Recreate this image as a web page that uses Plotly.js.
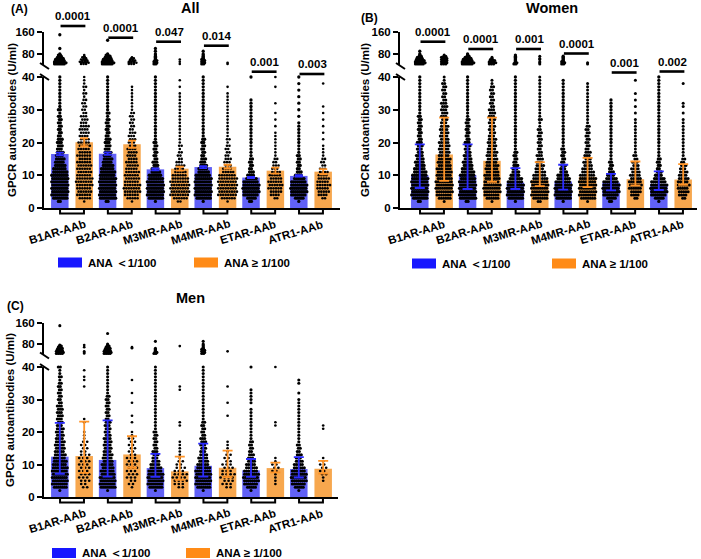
<!DOCTYPE html>
<html>
<head>
<meta charset="utf-8">
<script src="https://cdn.plot.ly/plotly-3.0.1.min.js"></script>
<style>
  html, body { margin: 0; padding: 0; background: #fff; }
  #chart { width: 701px; height: 559px; }
</style>
</head>
<body>
<div id="chart"></div>
<script>
// ---------- categories ----------
const antibodies = ['B1AR-AAb', 'B2AR-AAb', 'M3MR-AAb', 'M4MR-AAb', 'ETAR-AAb', 'ATR1-AAb'];
const legendNeg = 'ANA ＜1/100';
const legendPos = 'ANA ≥ 1/100';

// value levels at which the individual measurements (dots) sit
const lowLevels = [2, 3, 4, 5, 6, 7, 8, 9, 10, 11, 12, 13, 14, 15, 16, 17, 18, 19, 20, 21, 22,
  23, 24, 25, 26, 27, 28, 29, 30, 31, 32, 33, 34, 35, 36, 37, 38, 39, 40];
const highLevels = [44, 48, 52, 56, 60, 64, 68, 72, 76, 80, 90, 100, 110, 120, 130, 140, 150];

// ---------- (A) All: mean ± SEM ----------
const allMeanNeg = [16.5, 16.6, 11.8, 12.5, 9.3, 9.8];
const allSemNeg  = [0.4, 0.4, 0.3, 0.3, 0.2, 0.2];
const allMeanPos = [20.1, 19.5, 12.0, 12.6, 11.4, 11.1];
const allSemPos  = [1.2, 1.1, 0.6, 0.6, 0.9, 0.8];
const allP = ['0.0001', '0.0001', '0.047', '0.014', '0.001', '0.003'];

// ---------- (B) Women: median with interquartile range ----------
const womenMedNeg = [10.0, 10.1, 7.8, 8.1, 7.8, 7.4];
const womenQ1Neg  = [6.1, 5.8, 5.8, 5.6, 5.4, 5.5];
const womenQ3Neg  = [19.4, 19.4, 12.2, 13.2, 10.4, 11.2];
const womenMedPos = [16.3, 14.4, 8.6, 9.5, 8.8, 8.7];
const womenQ1Pos  = [8.3, 8.0, 6.7, 6.4, 6.9, 7.1];
const womenQ3Pos  = [27.6, 27.6, 14.0, 15.3, 14.2, 13.4];
const womenP = ['0.0001', '0.0001', '0.001', '0.0001', '0.001', '0.002'];

// ---------- (C) Men: median with interquartile range ----------
const menMedNeg = [12.4, 11.4, 8.9, 9.6, 8.2, 8.6];
const menQ1Neg  = [7.1, 6.3, 6.2, 6.3, 6.2, 6.0];
const menQ3Neg  = [22.8, 23.6, 13.3, 16.4, 11.7, 12.3];
const menMedPos = [12.6, 13.1, 7.9, 9.0, 8.9, 8.7];
const menQ1Pos  = [7.4, 9.0, 5.3, 6.1, 7.6, 7.2];
const menQ3Pos  = [23.2, 18.7, 12.4, 14.3, 10.6, 11.1];

// ---------- dot counts per level (lowLevels then highLevels), one row per antibody ----------
const allDotsNeg = [
  [2,8,9,9,9,9,9,9,9,8,7, 6,5,5,4,4,3,3,3,3,2, 2,2,2,2,2,2,1,2,1,1, 1,1,1,1,1,1,1,1, 6,7,6,5,5,4,3,2,2,1, 0,1,0,0,0,0,1],
  [2,9,9,9,9,9,9,9,8,8,7, 6,5,5,4,4,3,3,3,3,2, 2,2,2,2,2,1,2,1,1,1, 1,1,1,1,1,1,1,1, 6,7,6,5,5,4,3,3,2,1, 0,0,0,0,1,0,0],
  [1,8,9,9,9,9,9,8,7,5,4, 3,3,2,2,2,2,2,2,1,1, 1,1,1,1,1,1,1,1,1,1, 1,1,1,1,1,1,1,1, 2,2,2,2,1,1,1,1,1,1, 1,1,0,0,0,0,0],
  [1,8,9,9,9,9,9,9,8,6,5, 4,3,3,2,2,2,2,2,2,1, 1,1,1,1,1,1,1,1,1,1, 1,1,1,1,1,1,1,1, 2,2,2,2,2,1,1,1,1,1, 1,0,0,0,0,0,0],
  [2,5,8,9,9,9,8,6,4,3,2, 2,2,2,1,1,1,1,1,1,1, 1,1,1,1,1,1,1,1,1,1, 1,0,0,0,0,0,0,1, 0,0,0,0,0,0,0,0,0,0, 0,0,0,0,0,0,0],
  [1,5,8,9,9,9,8,6,4,3,2, 2,2,2,2,1,1,1,1,1,1, 1,1,1,1,0,1,0,1,0,1, 0,1,0,1,0,1,0,1, 0,0,0,0,0,0,0,0,0,0, 0,0,0,0,0,0,0]
];
const allDotsPos = [
  [1,5,6,6,6,7,7,7,6,6,6, 6,6,5,6,5,5,5,5,4,4, 4,4,4,3,3,3,2,2,2,2, 2,1,2,1,2,1,1,1, 3,4,4,3,3,2,2,1,1,0, 0,0,0,0,0,0,0],
  [1,5,6,7,7,7,6,6,6,6,5, 5,5,4,4,4,4,3,3,3,3, 3,2,2,2,2,2,2,1,1,1, 1,1,1,1,1,0,0,0, 3,4,3,3,2,2,1,0,0,0, 0,0,0,0,0,0,0],
  [2,6,8,8,8,8,8,7,6,5,4, 4,3,2,2,2,1,2,1,1,1, 1,1,1,1,1,1,1,1,1,1, 1,1,1,0,1,0,1,0, 1,0,1,0,1,0,0,0,0,0, 0,0,0,0,0,0,0],
  [1,6,8,8,8,8,8,8,7,5,4, 3,3,3,2,2,2,2,1,2,1, 1,1,1,1,1,1,1,1,1,1, 1,1,1,0,1,0,0,0, 1,1,0,0,0,0,0,0,0,0, 0,0,0,0,0,0,0],
  [0,2,4,5,6,6,6,5,5,4,3, 3,2,2,1,1,1,1,1,1,1, 1,0,1,0,1,0,1,0,0,1, 0,0,0,0,1,0,0,1, 0,0,0,0,0,0,0,0,0,0, 0,0,0,0,0,0,0],
  [0,2,4,5,5,6,5,5,4,4,3, 2,2,2,1,1,1,1,0,1,0, 1,0,1,0,1,0,1,0,1,0, 0,0,0,0,0,1,0,0, 0,0,0,0,0,0,0,0,0,0, 0,0,0,0,0,0,0]
];
const womenDotsNeg = [
  [2,8,9,9,9,9,9,9,8,7,6, 5,5,4,4,3,3,3,3,2,2, 2,2,2,2,2,2,1,1,1,1, 1,1,1,1,1,1,1,1, 5,6,5,5,4,3,3,2,1,1, 1,0,0,0,0,0,0],
  [2,9,9,9,9,9,9,8,8,7,6, 5,5,4,4,3,3,3,3,2,2, 2,2,2,2,2,1,1,1,1,1, 1,1,1,1,1,1,1,1, 6,7,6,5,5,4,3,2,1,1, 0,0,0,0,0,0,0],
  [1,8,9,9,9,9,8,7,5,4,3, 3,2,2,2,2,1,1,1,1,1, 1,1,1,1,1,1,1,1,1,1, 1,1,1,1,1,1,1,1, 2,2,1,1,1,1,1,1,1,0, 0,0,0,0,0,0,0],
  [1,8,9,9,9,9,8,7,6,4,3, 3,2,2,2,2,2,1,1,1,1, 1,1,1,1,1,1,1,1,1,1, 1,1,1,1,1,1,1,0, 2,2,2,1,1,1,1,1,0,0, 0,0,0,0,0,0,0],
  [2,5,8,9,9,9,8,6,4,3,2, 2,2,1,1,1,1,1,1,1,1, 1,1,1,1,1,1,1,1,1,1, 1,0,0,0,0,0,0,0, 0,0,0,0,0,0,0,0,0,0, 0,0,0,0,0,0,0],
  [1,5,8,9,9,9,8,6,4,3,2, 2,2,2,1,1,1,1,1,1,1, 1,1,1,1,1,1,1,1,1,1, 1,1,1,1,1,1,1,1, 0,0,0,0,0,0,0,0,0,0, 0,0,0,0,0,0,0]
];
const womenDotsPos = [
  [1,6,7,8,8,8,8,7,7,7,7, 6,6,6,5,5,5,5,5,4,4, 4,4,4,3,3,3,3,3,3,3, 2,2,2,2,2,2,1,1, 3,3,3,3,3,3,3,2,1,0, 0,0,0,0,0,0,0],
  [1,6,7,8,8,8,7,7,7,6,6, 6,5,5,5,5,4,4,4,4,3, 3,3,3,3,3,3,3,3,2,2, 2,2,2,2,2,1,1,0, 3,4,3,3,2,1,1,0,0,0, 0,0,0,0,0,0,0],
  [2,7,8,8,8,8,8,7,6,5,4, 4,3,3,3,2,2,2,2,2,2, 2,2,1,1,2,1,1,1,1,1, 1,1,1,1,1,1,1,1, 1,1,1,0,1,1,0,1,0,0, 0,0,0,0,0,0,0],
  [1,7,8,8,8,8,8,8,7,6,5, 4,4,3,3,3,2,2,2,2,2, 2,2,2,1,1,1,1,1,1,1, 1,1,1,1,1,1,0,0, 1,1,0,0,0,0,0,0,0,0, 0,0,0,0,0,0,0],
  [0,2,4,5,6,6,6,5,5,4,4, 3,3,2,2,1,1,1,1,1,1, 1,1,1,1,1,0,1,0,1,0, 1,0,1,0,0,0,1,0, 0,0,0,0,0,0,0,0,0,0, 0,0,0,0,0,0,0],
  [0,2,4,5,5,6,5,5,4,4,3, 3,2,2,1,1,1,1,1,1,1, 1,1,1,1,1,0,1,0,1,1, 0,0,0,0,0,1,0,0, 0,0,0,0,0,0,0,0,0,0, 0,0,0,0,0,0,0]
];
const menDotsNeg = [
  [1,7,8,8,8,8,8,8,7,7,6, 6,5,5,5,5,4,4,4,4,3, 3,3,3,3,3,3,2,2,2,2, 2,2,2,1,2,1,1,2, 4,4,4,3,3,3,2,2,1,0, 0,0,0,0,0,0,1],
  [1,8,8,8,8,7,7,6,6,5,5, 5,4,4,4,4,4,3,3,3,3, 3,2,2,2,2,2,2,2,2,1, 1,1,1,1,1,1,1,1, 4,4,4,3,3,3,2,2,1,1, 0,0,0,1,0,0,0],
  [1,7,8,8,8,8,7,6,5,4,3, 3,3,2,2,2,2,2,2,1,1, 1,1,1,1,1,1,1,1,1,1, 1,1,1,1,1,1,1,1, 2,2,1,1,1,1,0,0,0,0, 1,0,0,0,0,0,0],
  [1,7,8,8,8,8,8,7,6,5,5, 4,3,3,3,3,3,2,2,2,2, 2,1,1,1,1,1,1,1,1,1, 1,1,1,1,1,1,1,1, 2,2,2,2,2,1,1,1,1,1, 1,0,0,0,0,0,0],
  [1,5,7,8,8,8,7,6,5,4,3, 3,2,2,2,2,1,1,1,1,1, 1,1,1,1,1,0,1,1,1,1, 1,0,0,0,0,0,0,1, 0,0,0,0,0,0,0,0,0,0, 0,0,0,0,0,0,0],
  [1,5,7,8,8,8,7,6,5,4,3, 3,2,2,2,1,1,1,1,1,1, 1,1,1,1,1,1,1,1,0,1, 0,0,1,1,0,0,0,0, 0,0,0,0,0,0,0,0,0,0, 0,0,0,0,0,0,0]
];
const menDotsPos = [
  [0,2,2,3,3,3,3,3,3,3,3, 3,2,2,2,2,1,1,1,0,0, 1,1,0,0,0,0,0,0,0,0, 0,1,0,1,1,0,1,0, 1,1,1,0,0,0,1,0,1,0, 0,0,0,0,0,0,0],
  [0,1,2,2,3,3,3,3,3,3,3, 2,2,2,2,2,2,1,1,0,0, 1,0,1,0,0,0,1,0,0,1, 0,0,0,1,0,0,0,0, 0,0,0,0,0,1,1,0,0,0, 0,0,0,0,0,0,0],
  [0,2,3,4,4,4,3,3,2,2,1, 1,1,1,1,1,0,0,0,0,1, 1,0,0,0,0,0,0,0,0,0, 1,1,0,0,0,0,0,0, 0,0,0,0,0,0,0,1,0,0, 0,0,0,0,0,0,0],
  [0,2,3,3,4,4,3,3,3,2,2, 2,1,1,1,1,0,0,0,0,0, 0,0,1,0,0,0,1,0,0,0, 0,1,0,0,0,0,0,0, 0,0,1,0,0,0,0,0,0,0, 0,0,0,0,0,0,0],
  [0,0,1,1,1,1,2,2,2,1,1, 0,0,0,0,0,0,0,0,0,1, 1,0,0,0,0,0,0,0,0,0, 0,0,0,0,0,0,0,1, 0,0,0,0,0,0,0,0,0,0, 0,0,0,0,0,0,0],
  [0,0,0,1,1,2,2,2,2,1,1, 0,0,0,0,0,0,0,0,1,1, 0,0,0,0,0,0,0,0,0,0, 0,0,0,0,0,0,0,0, 0,0,0,0,0,0,0,0,0,0, 0,0,0,0,0,0,0]
];

// ---------- styling ----------
const W = 701, H = 559;
const FONT = 'Arial, "Liberation Sans", sans-serif';
const STEP_PX = 47.8;          // pixels between neighbouring antibody groups
const OFF = 0.255;             // bar offset from the group centre
const BAR_W = 0.366;
const BLUE_BAR = '#6161f6', ORANGE_BAR = '#f7a74e';
const BLUE_KEY = '#1717ff', ORANGE_KEY = '#ff8b17';
const BLUE_ERR = '#2b2bff', ORANGE_ERR = '#ff9326';
const px = v => v / W;
const py = v => 1 - v / H;
const idx = antibodies.map((_, i) => i);

// ---------- panel definitions ----------
const panels = [
  {
    letter: '(A)', letterPos: [19, 9], title: 'All', titlePos: [191, 8],
    xa: 'x', ya: 'y', yb: 'y2', xDom: [44, 340], xRange: [-0.586, 5.607],
    low: [208, 77], high: [65, 32], yTitle: [12, 120], labelY: 232,
    legendY: 262.5, legendX: [58, 194],
    neg: { v: allMeanNeg, plus: allSemNeg, minus: allSemNeg, dots: allDotsNeg, spread: 1.9, size: 3.3 },
    pos: { v: allMeanPos, plus: allSemPos, minus: allSemPos, dots: allDotsPos, spread: 2.5, size: 2.6 },
    p: allP, pLine: [26, 37.7, 41.7, 45.7, 71.7, 74], errW: 4
  },
  {
    letter: '(B)', letterPos: [369, 17.5], title: 'Women', titlePos: [552, 8],
    xa: 'x2', ya: 'y3', yb: 'y4', xDom: [400, 697], xRange: [-0.669, 5.544],
    low: [208, 77], high: [65, 32], yTitle: [365, 120], labelY: 232,
    legendY: 263.5, legendX: [412, 552],
    neg: { v: womenMedNeg, plus: womenQ3Neg.map((q, i) => q - womenMedNeg[i]), minus: womenMedNeg.map((m, i) => m - womenQ1Neg[i]), dots: womenDotsNeg, spread: 1.9, size: 3.3 },
    pos: { v: womenMedPos, plus: womenQ3Pos.map((q, i) => q - womenMedPos[i]), minus: womenMedPos.map((m, i) => m - womenQ1Pos[i]), dots: womenDotsPos, spread: 2.2, size: 3.0 },
    p: womenP, pLine: [41.7, 49, 49, 53.5, 72.5, 71.5], errW: 5
  },
  {
    letter: '(C)', letterPos: [15, 306], title: 'Men', titlePos: [190, 298],
    xa: 'x3', ya: 'y5', yb: 'y6', xDom: [44, 338], xRange: [-0.586, 5.565],
    low: [497, 367], high: [354.5, 323], yTitle: [10, 410], labelY: 521,
    legendY: 553, legendX: [52, 186],
    neg: { v: menMedNeg, plus: menQ3Neg.map((q, i) => q - menMedNeg[i]), minus: menMedNeg.map((m, i) => m - menQ1Neg[i]), dots: menDotsNeg, spread: 2.0, size: 3.1 },
    pos: { v: menMedPos, plus: menQ3Pos.map((q, i) => q - menMedPos[i]), minus: menMedPos.map((m, i) => m - menQ1Pos[i]), dots: menDotsPos, spread: 4.0, size: 2.7 },
    p: null, pLine: null, errW: 5
  }
];

// beeswarm-style rows: dots sharing a level are spread symmetrically around the bar centre,
// alternate rows nudged sideways so the rows do not stack into straight columns
function dotTrace(counts, offset, spreadPx, size, xa, ya, upper) {
  const xs = [], ys = [];
  const levels = upper ? highLevels : lowLevels;
  const start = upper ? lowLevels.length : 0;
  counts.forEach((row, i) => {
    levels.forEach((lv, j) => {
      const n = row[start + j];
      const nudge = n > 1 ? (j % 2 ? 0.25 : -0.25) * spreadPx : 0;
      for (let k = 0; k < n; k++) {
        xs.push(i + offset + ((k - (n - 1) / 2) * spreadPx + nudge) / STEP_PX);
        ys.push(lv);
      }
    });
  });
  return {
    type: 'scatter', mode: 'markers', x: xs, y: ys, xaxis: xa, yaxis: ya,
    marker: { color: '#000', size: size, line: { width: 0 } },
    cliponaxis: false, hoverinfo: 'skip', showlegend: false
  };
}

const traces = [];
const shapes = [];
const annotations = [];
const layout = {
  width: W, height: H,
  margin: { l: 0, r: 0, t: 0, b: 0 },
  paper_bgcolor: '#fff', plot_bgcolor: 'rgba(0,0,0,0)',
  barmode: 'overlay', showlegend: false,
  font: { family: FONT, color: '#000' },
  shapes, annotations
};

const axName = id => id.replace(/^x/, 'xaxis').replace(/^y/, 'yaxis');
const tickFont = { family: FONT, size: 11.5, color: '#000' };

panels.forEach(P => {
  // axes
  layout[axName(P.xa)] = {
    domain: [px(P.xDom[0]), px(P.xDom[1])], range: P.xRange, anchor: P.ya,
    showline: true, linewidth: 2, linecolor: '#000', ticks: '', showticklabels: false,
    showgrid: false, zeroline: false, fixedrange: true
  };
  const yCommon = {
    anchor: P.xa, showline: true, linewidth: 2, linecolor: '#000',
    ticks: 'outside', ticklen: 5, tickwidth: 2, tickcolor: '#000',
    showgrid: false, zeroline: false, fixedrange: true, tickfont: tickFont
  };
  layout[axName(P.ya)] = Object.assign({}, yCommon, {
    domain: [py(P.low[0]), py(P.low[1])], range: [0, 40],
    tickvals: [0, 10, 20, 30, 40], ticktext: ['<b>0</b>', '<b>10</b>', '<b>20</b>', '<b>30</b>', '<b>40</b>']
  });
  layout[axName(P.yb)] = Object.assign({}, yCommon, {
    domain: [py(P.high[0]), py(P.high[1])], range: [40, 160],
    tickvals: [80, 160], ticktext: ['<b>80</b>', '<b>160</b>']
  });

  // bars
  [[P.neg, -OFF, BLUE_BAR], [P.pos, OFF, ORANGE_BAR]].forEach(([s, off, col]) => {
    traces.push({
      type: 'bar', x: idx.map(i => i + off), y: s.v, width: BAR_W,
      xaxis: P.xa, yaxis: P.ya, marker: { color: col, line: { width: 0 } },
      hoverinfo: 'skip', showlegend: false
    });
  });
  // dots
  [[P.neg, -OFF], [P.pos, OFF]].forEach(([s, off]) => {
    traces.push(dotTrace(s.dots, off, s.spread, s.size, P.xa, P.ya, false));
    traces.push(dotTrace(s.dots, off, s.spread, s.size, P.xa, P.yb, true));
  });
  // error bars on top of the dots
  [[P.neg, -OFF, BLUE_ERR], [P.pos, OFF, ORANGE_ERR]].forEach(([s, off, col]) => {
    traces.push({
      type: 'scatter', mode: 'markers', x: idx.map(i => i + off), y: s.v,
      xaxis: P.xa, yaxis: P.ya, marker: { size: 1, color: 'rgba(0,0,0,0)' },
      error_y: { type: 'data', symmetric: false, array: s.plus, arrayminus: s.minus,
                 color: col, thickness: 1.8, width: P.errW },
      cliponaxis: false, hoverinfo: 'skip', showlegend: false
    });
  });

  // group brackets under the x axis
  const b0 = py(P.low[0]), b1 = py(P.low[0] + 5.5);
  idx.forEach(i => {
    shapes.push({
      type: 'path', xref: P.xa, yref: 'paper',
      path: `M ${i - 0.25},${b0} L ${i - 0.25},${b1} L ${i + 0.25},${b1} L ${i + 0.25},${b0}`,
      line: { color: '#000', width: 2 }
    });
  });

  // axis break marks
  const ax = P.xDom[0];
  [[P.high[0] - 2, P.high[0] + 4], [P.low[1] - 3, P.low[1] + 3]].forEach(([ya, yb2]) => {
    shapes.push({ type: 'line', xref: 'paper', yref: 'paper',
      x0: px(ax - 4), y0: py(ya), x1: px(ax + 5), y1: py(yb2),
      line: { color: '#000', width: 2 } });
  });

  // p-value bars
  if (P.p) {
    P.p.forEach((t, i) => {
      shapes.push({ type: 'line', xref: P.xa, yref: 'paper',
        x0: i - 0.24, x1: i + 0.28, y0: py(P.pLine[i]), y1: py(P.pLine[i]),
        line: { color: '#000', width: 2.6 } });
      annotations.push({ xref: P.xa, yref: 'paper', x: i + 0.03, y: py(P.pLine[i] - 9.8),
        text: '<b>' + t + '</b>', showarrow: false, xanchor: 'center', yanchor: 'middle',
        font: { family: FONT, size: 11.5, color: '#000' } });
    });
  }

  // antibody labels
  antibodies.forEach((name, i) => {
    annotations.push({ xref: P.xa, yref: 'paper', x: i, xshift: -15, y: py(P.labelY),
      text: '<b>' + name + '</b>', showarrow: false, textangle: -17,
      xanchor: 'center', yanchor: 'middle', font: { family: FONT, size: 11.5, color: '#000' } });
  });

  // titles
  annotations.push({ xref: 'paper', yref: 'paper', x: px(P.titlePos[0]), y: py(P.titlePos[1]),
    text: '<b>' + P.title + '</b>', showarrow: false, xanchor: 'center', yanchor: 'middle',
    font: { family: FONT, size: 14.5, color: '#000' } });
  annotations.push({ xref: 'paper', yref: 'paper', x: px(P.letterPos[0]), y: py(P.letterPos[1]),
    text: '<b>' + P.letter + '</b>', showarrow: false, xanchor: 'center', yanchor: 'middle',
    font: { family: FONT, size: 12, color: '#000' } });
  annotations.push({ xref: 'paper', yref: 'paper', x: px(P.yTitle[0]), y: py(P.yTitle[1]),
    text: '<b>GPCR autoantibodies (U/ml)</b>', showarrow: false, textangle: -90,
    xanchor: 'center', yanchor: 'middle', font: { family: FONT, size: 11.5, color: '#000' } });

  // legend keys
  [[P.legendX[0], BLUE_KEY, legendNeg], [P.legendX[1], ORANGE_KEY, legendPos]].forEach(([lx, col, txt]) => {
    shapes.push({ type: 'rect', xref: 'paper', yref: 'paper',
      x0: px(lx), x1: px(lx + 24), y0: py(P.legendY - 5), y1: py(P.legendY + 5),
      fillcolor: col, line: { width: 0 } });
    annotations.push({ xref: 'paper', yref: 'paper', x: px(lx + 28), y: py(P.legendY),
      text: '<b>' + txt + '</b>', showarrow: false, xanchor: 'left', yanchor: 'middle',
      font: { family: FONT, size: 11.5, color: '#000' } });
  });
});

Plotly.newPlot('chart', traces, layout, { staticPlot: true, displayModeBar: false });
</script>
</body>
</html>
